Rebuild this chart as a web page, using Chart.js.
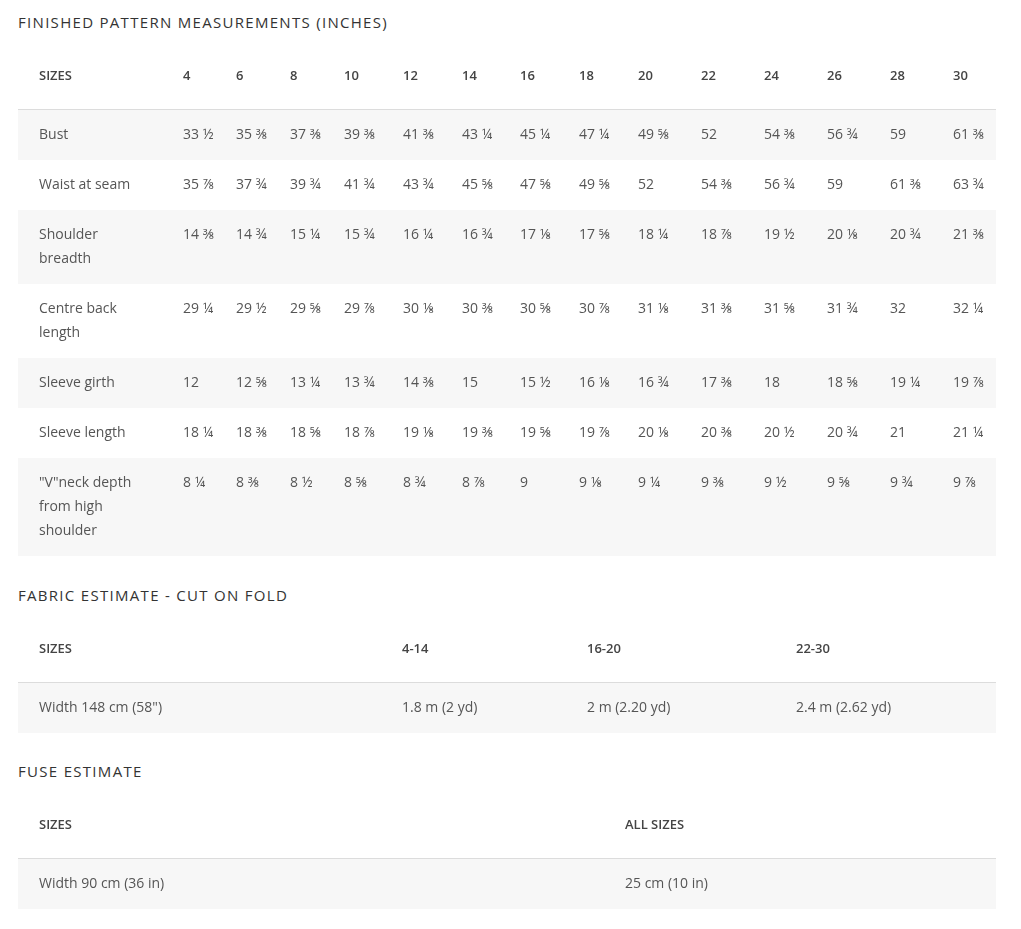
<!DOCTYPE html>
<html>
<head>
<meta charset="utf-8">
<script src="https://cdn.jsdelivr.net/npm/chart.js@4/dist/chart.umd.min.js"></script>
<style>
  body { margin: 0; background: #fff; font-family: "Open Sans", sans-serif; }
  .title { position: absolute; left: 18px; font-size: 15px; letter-spacing: 1.3px; color: #333; font-weight: 500; }
  canvas { position: absolute; left: 18px; }
</style>
</head>
<body>
<div class="title" style="top:12px">FINISHED PATTERN MEASUREMENTS (INCHES)</div>
<canvas id="t1"></canvas>
<div class="title" style="top:585px">FABRIC ESTIMATE - CUT ON FOLD</div>
<canvas id="t2"></canvas>
<div class="title" style="top:761px">FUSE ESTIMATE</div>
<canvas id="t3"></canvas>
<script>
// --- data ---
const sizes = ["4", "6", "8", "10", "12", "14", "16", "18", "20", "22", "24", "26", "28", "30"];
const measureLabels = [["Bust"], ["Waist at seam"], ["Shoulder", "breadth"], ["Centre back", "length"],
  ["Sleeve girth"], ["Sleeve length"], ["\"V\"neck depth", "from high", "shoulder"]];
const bust = ["33 ½", "35 ⅜", "37 ⅜", "39 ⅜", "41 ⅜", "43 ¼", "45 ¼", "47 ¼", "49 ⅝", "52", "54 ⅜", "56 ¾", "59", "61 ⅜"];
const waist = ["35 ⅞", "37 ¾", "39 ¾", "41 ¾", "43 ¾", "45 ⅝", "47 ⅝", "49 ⅝", "52", "54 ⅜", "56 ¾", "59", "61 ⅜", "63 ¾"];
const shoulder = ["14 ⅜", "14 ¾", "15 ¼", "15 ¾", "16 ¼", "16 ¾", "17 ⅛", "17 ⅝", "18 ¼", "18 ⅞", "19 ½", "20 ⅛", "20 ¾", "21 ⅜"];
const centreBack = ["29 ¼", "29 ½", "29 ⅝", "29 ⅞", "30 ⅛", "30 ⅜", "30 ⅝", "30 ⅞", "31 ⅛", "31 ⅜", "31 ⅝", "31 ¾", "32", "32 ¼"];
const sleeveGirth = ["12", "12 ⅝", "13 ¼", "13 ¾", "14 ⅜", "15", "15 ½", "16 ⅛", "16 ¾", "17 ⅜", "18", "18 ⅝", "19 ¼", "19 ⅞"];
const sleeveLength = ["18 ¼", "18 ⅜", "18 ⅝", "18 ⅞", "19 ⅛", "19 ⅜", "19 ⅝", "19 ⅞", "20 ⅛", "20 ⅜", "20 ½", "20 ¾", "21", "21 ¼"];
const vneck = ["8 ¼", "8 ⅜", "8 ½", "8 ⅝", "8 ¾", "8 ⅞", "9", "9 ⅛", "9 ¼", "9 ⅜", "9 ½", "9 ⅝", "9 ¾", "9 ⅞"];

const fabricHeaders = ["4-14", "16-20", "22-30"];
const fabricLabel = "Width 148 cm (58\")";
const fabricValues = ["1.8 m (2 yd)", "2 m (2.20 yd)", "2.4 m (2.62 yd)"];

const fuseHeaders = ["ALL SIZES"];
const fuseLabel = "Width 90 cm (36 in)";
const fuseValues = ["25 cm (10 in)"];

// --- table drawn on chart scales ---
const W = 978;
const rowHeight = lines => 26 + 24 * lines;

function makeTable(id, top, headers, rows, colX) {
  const heights = [60, ...rows.map(r => rowHeight(r[0].length))];
  const total = heights.reduce((a, b) => a + b, 0);
  const canvas = document.getElementById(id);
  canvas.style.top = top + "px";
  canvas.width = W; canvas.height = total;
  canvas.style.width = W + "px"; canvas.style.height = total + "px";

  const tablePlugin = {
    id: "tablePlugin",
    beforeDraw(chart) {
      const { ctx, scales: { x, y } } = chart;
      ctx.save();
      ctx.textBaseline = "middle";
      let acc = 0;
      heights.forEach((h, r) => {
        const y0 = y.getPixelForValue(acc), y1 = y.getPixelForValue(acc + h);
        if (r % 2 === 1) {
          ctx.fillStyle = "#f7f7f7";
          ctx.fillRect(x.getPixelForValue(0), y0, x.getPixelForValue(W) - x.getPixelForValue(0), y1 - y0);
        }
        if (r === 0) {
          ctx.font = "600 13px 'Open Sans', sans-serif";
          ctx.fillStyle = "#444";
          ["SIZES", ...headers].forEach((t, c) => ctx.fillText(t, x.getPixelForValue(colX[c]), y0 + 26));
          ctx.strokeStyle = "#dcdcdc"; ctx.lineWidth = 2;
          ctx.beginPath(); ctx.moveTo(x.getPixelForValue(0), y1); ctx.lineTo(x.getPixelForValue(W), y1); ctx.stroke();
        } else {
          const [label, vals] = rows[r - 1];
          ctx.font = "14px 'Open Sans', sans-serif";
          ctx.fillStyle = "#555";
          label.forEach((l, i) => ctx.fillText(l, x.getPixelForValue(colX[0]), y0 + 25 + 24 * i));
          vals.forEach((v, c) => ctx.fillText(v, x.getPixelForValue(colX[c + 1]), y0 + 25));
        }
        acc += h;
      });
      ctx.restore();
    }
  };

  return new Chart(canvas, {
    type: "bar",
    data: { datasets: [] },
    options: {
      responsive: false, animation: false,
      layout: { padding: 0 },
      plugins: { legend: { display: false }, tooltip: { enabled: false } },
      scales: {
        x: { type: "linear", min: 0, max: W, offset: false, display: false },
        y: { type: "linear", min: 0, max: total, reverse: true, offset: false, display: false }
      }
    },
    plugins: [tablePlugin]
  });
}

makeTable("t1", 50, sizes, [
  [measureLabels[0], bust], [measureLabels[1], waist], [measureLabels[2], shoulder],
  [measureLabels[3], centreBack], [measureLabels[4], sleeveGirth], [measureLabels[5], sleeveLength],
  [measureLabels[6], vneck]
], [21, 165, 218, 272, 326, 385, 444, 502, 561, 620, 683, 746, 809, 872, 935]);

makeTable("t2", 623, fabricHeaders, [[[fabricLabel], fabricValues]], [21, 384, 569, 778]);
makeTable("t3", 799, fuseHeaders, [[[fuseLabel], fuseValues]], [21, 607]);
</script>
</body>
</html>
